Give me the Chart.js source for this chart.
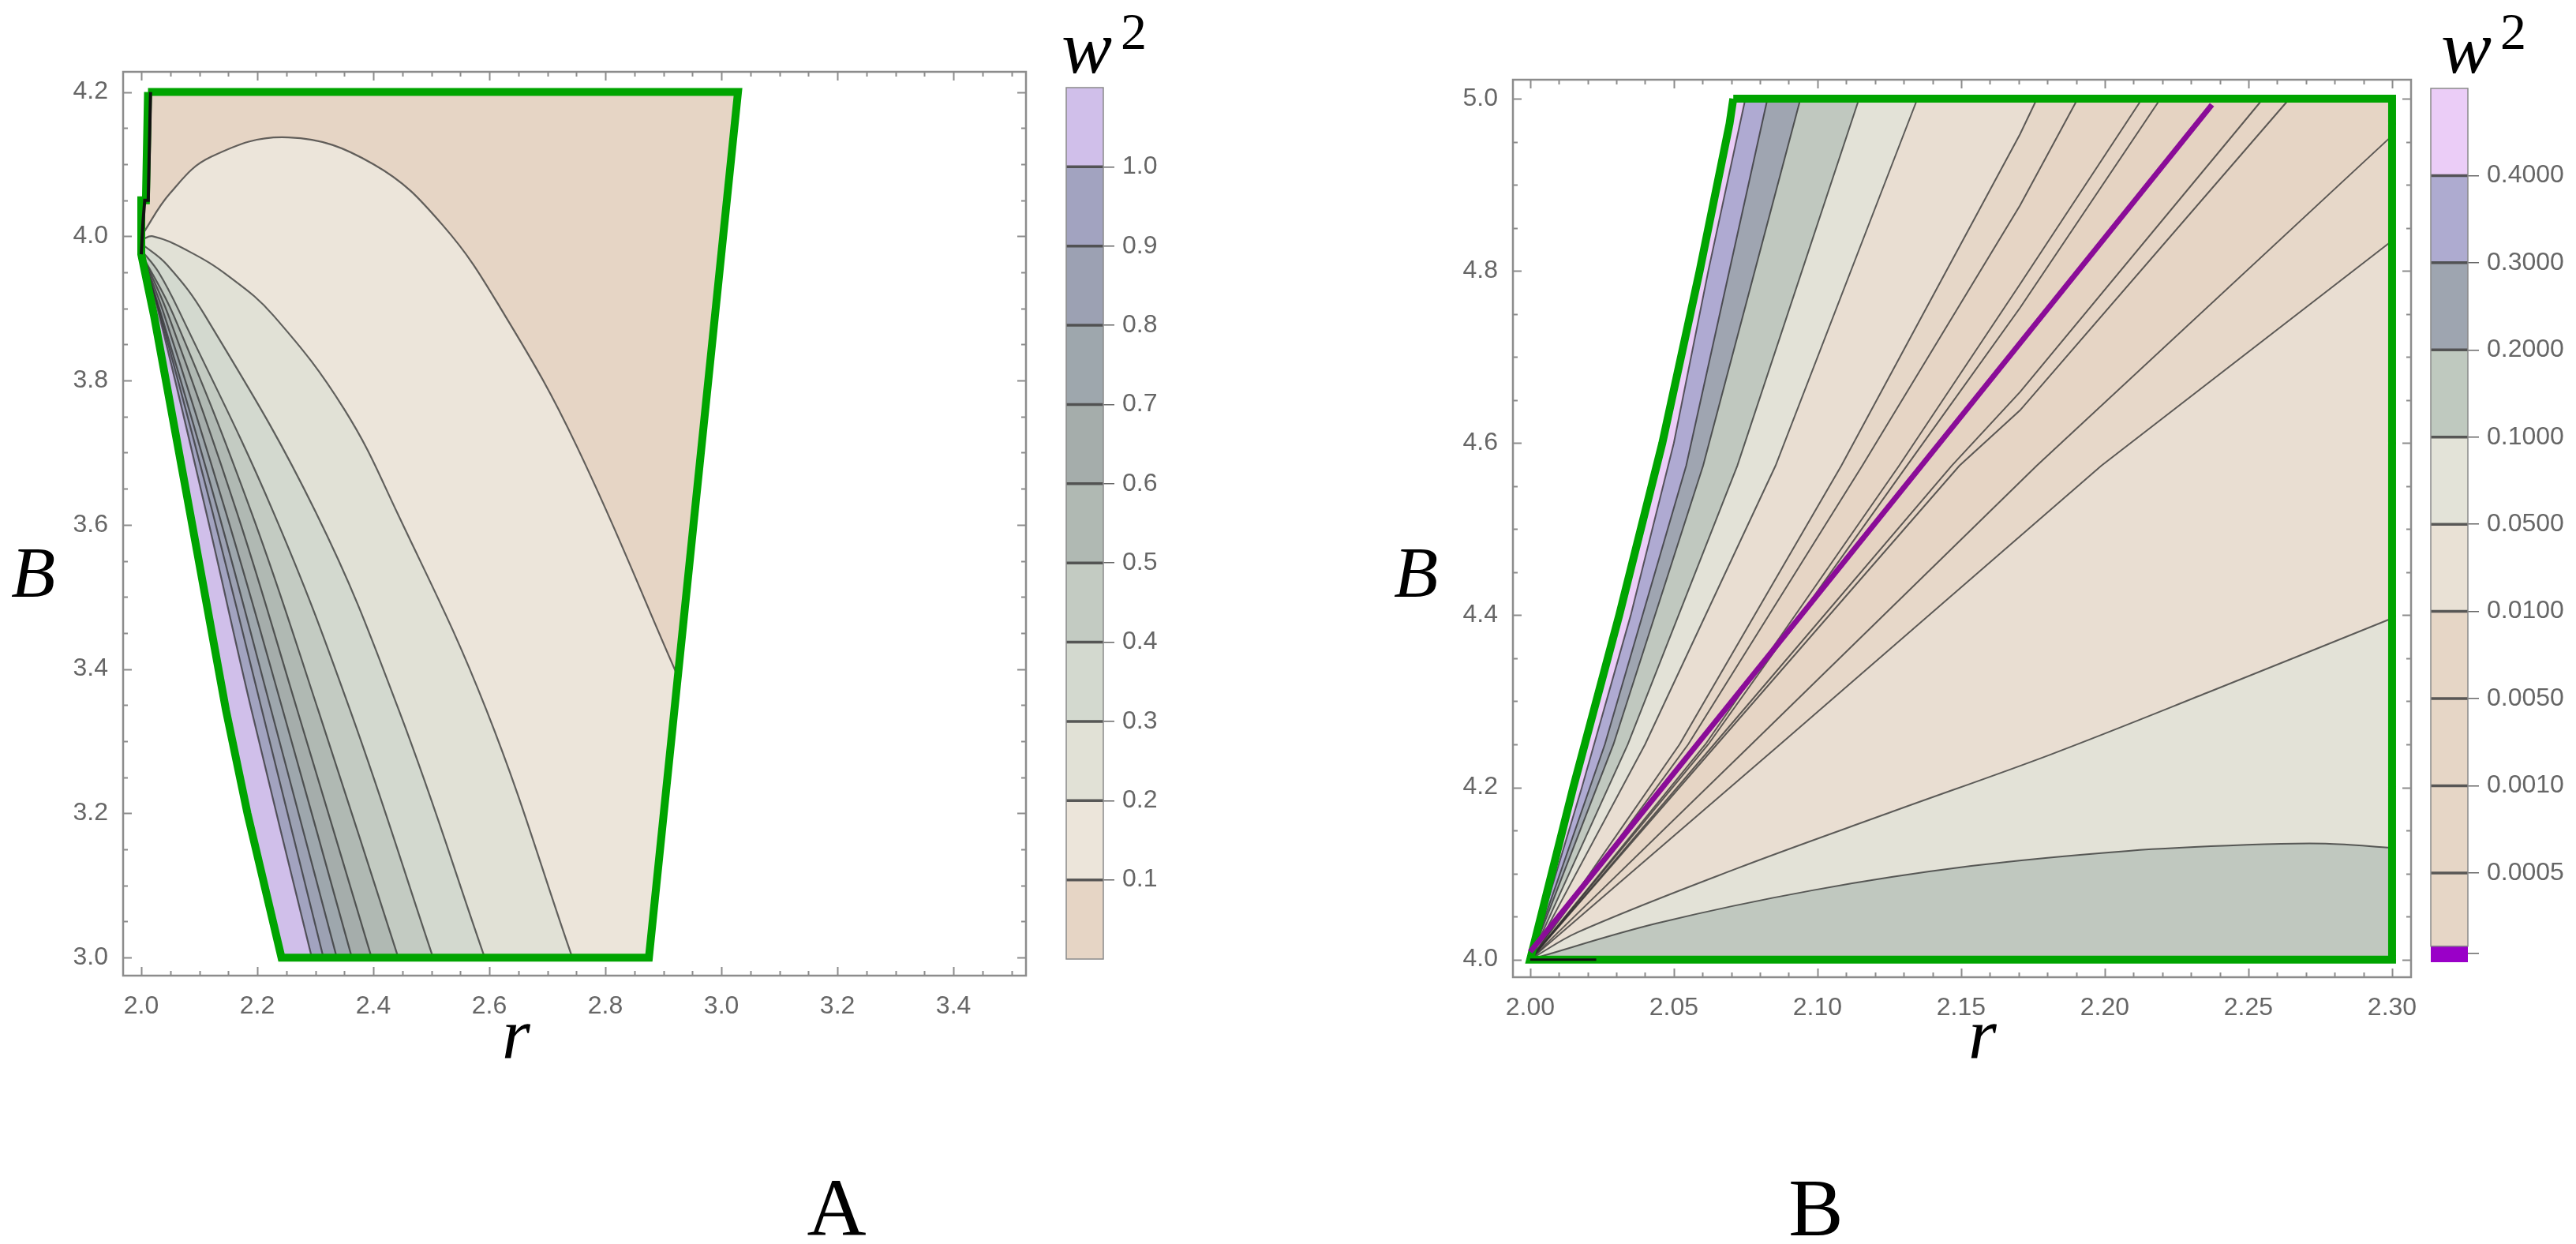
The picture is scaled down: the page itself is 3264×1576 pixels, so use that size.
<!DOCTYPE html>
<html>
<head>
<meta charset="utf-8">
<script src="https://cdn.jsdelivr.net/npm/chart.js@4.4.1/dist/chart.umd.min.js"></script>
<style>
  html, body { margin: 0; padding: 0; background: #fff; }
  #wrap { position: relative; width: 3264px; height: 1576px; overflow: hidden; background: #fff; }
  canvas { position: absolute; }
  .t { position: absolute; font-family: 'Liberation Serif', serif; line-height: 1; white-space: nowrap; color: #000; }
  .i { font-style: italic; }
</style>
</head>
<body>
<div id="wrap">
  <canvas id="plotA" width="1330" height="1400" style="left:0;top:0"></canvas>
  <canvas id="barA" width="230" height="1300" style="left:1330px;top:0"></canvas>
  <canvas id="plotB" width="1380" height="1400" style="left:1700px;top:0"></canvas>
  <canvas id="barB" width="204" height="1300" style="left:3060px;top:0"></canvas>

  <div class="t i" style="left:14px;top:679px;font-size:92px">B</div>
  <div class="t i" style="left:636px;top:1263px;font-size:92px">r</div>
  <div class="t i" style="left:1345px;top:12px;font-size:96px">w</div>
  <div class="t" style="left:1420px;top:7px;font-size:66px">2</div>
  <div class="t" style="left:960px;width:200px;text-align:center;top:1478px;font-size:104px">A</div>

  <div class="t i" style="left:1766px;top:679px;font-size:92px">B</div>
  <div class="t i" style="left:2494px;top:1263px;font-size:92px">r</div>
  <div class="t i" style="left:3093px;top:12px;font-size:96px">w</div>
  <div class="t" style="left:3168px;top:7px;font-size:66px">2</div>
  <div class="t" style="left:2201px;width:200px;text-align:center;top:1478px;font-size:104px">B</div>
</div>

<script>
// ---------------- panel A data (r, B) ----------------
const polyA_r = [2.0116, 3.0286, 2.875, 2.2417, 2.183, 2.146, 2.084, 2.022, 2.0, 2.0, 2.008, 2.0116];
const polyA_B = [4.2, 4.2, 3.0, 3.0, 3.2, 3.343, 3.617, 3.89, 3.975, 4.05, 4.05, 4.2];
const topA_r = [2.0, 3.03];
const topA_B = [4.2, 4.2];
const jagA_r = [2.0, 2.003, 2.006, 2.012, 2.016];
const jagA_B = [3.975, 4.02, 4.05, 4.05, 4.2];

const a01_r = [2.0, 2.05, 2.12, 2.254, 2.40, 2.52, 2.627, 2.75, 2.922];
const a01_B = [4.0, 4.06, 4.11, 4.137, 4.10, 4.015, 3.89, 3.71, 3.395];
const a02_r = [2.0, 2.02, 2.08, 2.15, 2.228, 2.35, 2.441, 2.595, 2.743];
const a02_B = [3.995, 4.0, 3.98, 3.945, 3.89, 3.76, 3.617, 3.343, 3.0];
const a03_r = [2.0, 2.045, 2.110, 2.301, 2.444, 2.592];
const a03_B = [3.99, 3.96, 3.89, 3.617, 3.343, 3.0];
const a04_r = [2.001, 2.03, 2.069, 2.228, 2.360, 2.503];
const a04_B = [3.98, 3.95, 3.89, 3.617, 3.343, 3.0];
const aLowB = [3.975, 3.89, 3.617, 3.343, 3.0];
const a05_r = [2.001, 2.056, 2.190, 2.305, 2.443];
const a06_r = [2.001, 2.047, 2.165, 2.269, 2.397];
const a07_r = [2.001, 2.040, 2.146, 2.244, 2.363];
const a08_r = [2.001, 2.035, 2.133, 2.224, 2.337];
const a09_r = [2.001, 2.033, 2.123, 2.208, 2.314];
const a10_r = [2.001, 2.031, 2.112, 2.190, 2.294];

const levelsA = [0.1, 0.2, 0.3, 0.4, 0.5, 0.6, 0.7, 0.8, 0.9, 1.0];
const coloursA = ['#e6d5c5', '#ece5da', '#e1e1d6', '#d3d9cf', '#c3cbc2', '#b0b9b3',
                  '#a5adab', '#9ea7ad', '#9ca1b3', '#a2a3c0', '#d0bfea'];
const bandLoA = [0, 0.1, 0.2, 0.3, 0.4, 0.5, 0.6, 0.7, 0.8, 0.9, 1.0];
const bandHiA = [0.1, 0.2, 0.3, 0.4, 0.5, 0.6, 0.7, 0.8, 0.9, 1.0, 1.1];

const majorXA = [2.0, 2.2, 2.4, 2.6, 2.8, 3.0, 3.2, 3.4];
const majorYA = [3.0, 3.2, 3.4, 3.6, 3.8, 4.0, 4.2];

// ---------------- panel B data ----------------
const polyB_r = [2.0707, 2.300, 2.300, 2.0, 2.015, 2.031, 2.046, 2.059, 2.0694, 2.0707];
const polyB_B = [5.0, 5.0, 4.0, 4.0, 4.2, 4.4, 4.6, 4.8, 4.971, 5.0];
const topB_r = [1.99, 2.31];
const topB_B = [5.0, 5.0];
const extB_r = [2.32];
const extB_B = [5.03];
const zeroB_r = [2.0, 2.2373];
const zeroB_B = [4.009, 4.993];
const stubB_r = [2.0, 2.023];
const stubB_B = [4.0, 4.0];

const b04_r = [2.0, 2.018, 2.035, 2.050, 2.062, 2.0749];
const b04_B = [4.0, 4.2, 4.4, 4.6, 4.8, 5.0];
const radB = [4.0, 4.25, 4.5736, 5.0];
const b03_r = [2.0, 2.026, 2.0543, 2.0826];
const b02_r = [2.0, 2.029, 2.0602, 2.0941];
const b01_r = [2.0, 2.034, 2.0721, 2.1145];
const b005_r = [2.0, 2.040, 2.0854, 2.1348];
const b001_r = [2.0, 2.052, 2.1083, 2.1705, 2.1764];
const b001_B = [4.0, 4.25, 4.5736, 4.9587, 5.0];
const b0005_r = [2.0, 2.055, 2.1156, 2.1705, 2.1906];
const b0005_B = [4.0, 4.25, 4.5736, 4.876, 5.0];
const b0001_r = [2.0, 2.061, 2.1284, 2.1705, 2.2130];
const b0001_B = [4.0, 4.25, 4.5736, 4.7845, 5.0];
const b00005_r = [2.0, 2.062, 2.1311, 2.1705, 2.2194];
const b00005_B = [4.0, 4.25, 4.5736, 4.757, 5.0];
const c00005_r = [2.0, 2.064, 2.1467, 2.1705, 2.2551];
const c00005_B = [4.0, 4.25, 4.5736, 4.6593, 5.0];
const c0001_r = [2.0, 2.065, 2.1494, 2.1705, 2.2643];
const c0001_B = [4.0, 4.25, 4.5736, 4.638, 5.0];
const c0005_r = [2.0, 2.077, 2.1763, 2.300];
const c0005_B = [4.0, 4.25, 4.5736, 4.957];
const c001_r = [2.0, 2.087, 2.1988, 2.300];
const c001_B = [4.0, 4.25, 4.5736, 4.835];
const c005_r = [2.0, 2.0165, 2.0713, 2.1262, 2.181, 2.2357, 2.300];
const c005_B = [4.0, 4.0317, 4.105, 4.172, 4.238, 4.31, 4.3965];
const c01_r = [2.0, 2.044, 2.0987, 2.1535, 2.2083, 2.2494, 2.2768, 2.300];
const c01_B = [4.0, 4.042, 4.0807, 4.1087, 4.1263, 4.1333, 4.1347, 4.1298];

// colour of the band on the right-hand side of each line, left to right
const coloursB = ['#afaad2', '#9fa5b1', '#c0c8bf', '#e3e2d7', '#e9ded2', '#e6d7c8', '#e6d5c5',
                  '#e6d5c5', '#e5d3c2', '#e6d5c5', '#e6d5c5', '#e7d8c9', '#e9ded2', '#e3e2d7', '#c0c8bf'];
const leftmostB = '#ebcdf7';

const barColoursB = ['#9a00c8', '#e6d6c6', '#e6d6c6', '#e6d6c6', '#e6d6c6', '#e9e1d5',
                     '#e3e3d8', '#bfc9bf', '#9ea5b0', '#aeabd0', '#ebcdf7'];
const bandLoB = [-0.024, 0.16, 1, 2, 3, 4, 5, 6, 7, 8, 9];
const bandHiB = [0.16, 1, 2, 3, 4, 5, 6, 7, 8, 9, 10];
const tickPosB = [0.076, 1, 2, 3, 4, 5, 6, 7, 8, 9];
const tickLabB = ['', '0.0005', '0.0010', '0.0050', '0.0100', '0.0500', '0.1000', '0.2000', '0.3000', '0.4000'];

const majorXB = [2.00, 2.05, 2.10, 2.15, 2.20, 2.25, 2.30];
const majorYB = [4.0, 4.2, 4.4, 4.6, 4.8, 5.0];

// ---------------- helpers ----------------
const tickFont = { family: 'Liberation Sans', size: 32 };
const pts = (r, B) => r.map((v, i) => ({ x: v, y: B[i] }));
const steps = (a, b, s) => { const out = []; for (let k = 0; a + k * s <= b + 1e-9; k++) out.push(+(a + k * s).toFixed(4)); return out; };
const minus = (all, major) => all.filter(v => !major.some(m => Math.abs(m - v) < 1e-6));

const fillDs = (r, B, colour, tension) => ({
  data: pts(r, B), fill: 'start', backgroundColor: colour,
  borderColor: 'rgba(0,0,0,0)', borderWidth: 0, pointRadius: 0, tension
});
const lineDs = (r, B, colour, width, tension) => ({
  data: pts(r, B), fill: false, borderColor: colour, borderWidth: width, pointRadius: 0, tension
});

const framePlugin = {
  id: 'frame',
  afterDatasetDraw(chart, args) {
    const ds = chart.data.datasets[args.index];
    if (!ds.maskPoly) return;
    const { ctx, chartArea: a, scales: { x, y } } = chart;
    ctx.save();
    ctx.beginPath();
    ctx.rect(a.left - 3, a.top - 3, a.width + 6, a.height + 6);
    ds.maskPoly.r.forEach((r, i) => {
      const px = x.getPixelForValue(r), py = y.getPixelForValue(ds.maskPoly.B[i]);
      if (i) ctx.lineTo(px, py); else ctx.moveTo(px, py);
    });
    ctx.closePath();
    ctx.fillStyle = '#fff';
    ctx.fill('evenodd');
    ctx.restore();
  },
  afterDraw(chart, args, opts) {
    const { ctx, chartArea: a, scales: { x, y } } = chart;
    ctx.save();
    ctx.strokeStyle = '#8c8c8c';
    ctx.lineWidth = 2;
    const tick = (vals, len, horiz) => vals.forEach(v => {
      ctx.beginPath();
      if (horiz) {
        const px = Math.round(x.getPixelForValue(v)) + 0.5;
        ctx.moveTo(px, a.bottom); ctx.lineTo(px, a.bottom - len);
        ctx.moveTo(px, a.top); ctx.lineTo(px, a.top + len);
      } else {
        const py = Math.round(y.getPixelForValue(v)) + 0.5;
        ctx.moveTo(a.left, py); ctx.lineTo(a.left + len, py);
        ctx.moveTo(a.right, py); ctx.lineTo(a.right - len, py);
      }
      ctx.stroke();
    });
    tick(opts.majorX, 11, true);
    tick(opts.minorX, 6, true);
    tick(opts.majorY, 11, false);
    tick(opts.minorY, 6, false);
    ctx.lineWidth = 2.5;
    ctx.strokeRect(a.left, a.top, a.width, a.height);
    ctx.restore();
  }
};

const bandPlugin = {
  id: 'bands',
  afterDatasetsDraw(chart, args, opts) {
    const { ctx, chartArea: a, scales: { y } } = chart;
    ctx.save();
    ctx.strokeStyle = 'rgba(72,72,72,0.9)';
    ctx.lineWidth = 3.5;
    opts.lines.forEach(v => {
      const py = y.getPixelForValue(v);
      ctx.beginPath(); ctx.moveTo(a.left, py); ctx.lineTo(a.right, py); ctx.stroke();
    });
    ctx.strokeStyle = '#8a8a8a';
    ctx.lineWidth = 1.5;
    ctx.strokeRect(a.left, a.top, a.width, opts.outlineBottom ? y.getPixelForValue(opts.outlineBottom) - a.top : a.height);
    ctx.restore();
  }
};

function plotChart(id, o) {
  return new Chart(document.getElementById(id), {
    type: 'line',
    data: { datasets: o.layers.slice().reverse() },
    options: {
      responsive: false, animation: false, devicePixelRatio: 1,
      layout: { padding: { left: 0, top: o.padTop, right: o.padRight, bottom: 0 } },
      plugins: {
        legend: { display: false }, tooltip: { enabled: false },
        frame: { majorX: o.majorX, minorX: o.minorX, majorY: o.majorY, minorY: o.minorY }
      },
      scales: {
        x: {
          type: 'linear', min: o.xMin, max: o.xMax,
          grid: { display: false }, border: { display: false },
          afterBuildTicks: s => { s.ticks = o.majorX.map(v => ({ value: v })); },
          afterFit: s => { s.height = o.xHeight; },
          ticks: { autoSkip: false, maxRotation: 0, padding: 12, color: '#666', font: tickFont,
                   callback: v => v.toFixed(o.xDigits) }
        },
        y: {
          type: 'linear', min: o.yMin, max: o.yMax,
          grid: { display: false }, border: { display: false },
          afterBuildTicks: s => { s.ticks = o.majorY.map(v => ({ value: v })); },
          afterFit: s => { s.width = o.yWidth; },
          ticks: { autoSkip: false, padding: 11, color: '#666', font: tickFont,
                   callback: v => v.toFixed(1) }
        }
      }
    },
    plugins: [framePlugin]
  });
}

function barChart(id, o) {
  return new Chart(document.getElementById(id), {
    type: 'bar',
    data: {
      labels: [''],
      datasets: o.lo.map((lo, i) => ({
        data: [[lo, o.hi[i]]], backgroundColor: o.colours[i], borderWidth: 0,
        grouped: false, barPercentage: 1, categoryPercentage: 1
      }))
    },
    options: {
      responsive: false, animation: false, devicePixelRatio: 1,
      layout: { padding: { left: o.padLeft, top: o.padTop, bottom: o.padBottom, right: 0 } },
      plugins: { legend: { display: false }, tooltip: { enabled: false },
                 bands: { lines: o.lines, outlineBottom: o.outlineBottom } },
      scales: {
        x: { display: false },
        y: {
          position: 'right', min: o.min, max: o.max,
          afterBuildTicks: s => { s.ticks = o.tickPos.map(v => ({ value: v })); },
          afterFit: s => { s.width = o.axisWidth; },
          grid: { drawOnChartArea: false, drawTicks: true, tickLength: 14, color: '#666', lineWidth: 1.5 },
          border: { display: false },
          ticks: { padding: 10, color: '#666', font: tickFont, callback: (v, i) => o.tickLab[i] }
        }
      }
    },
    plugins: [bandPlugin]
  });
}

// ---------------- panel A ----------------
const lineA = 'rgba(45,45,45,0.72)';
const contA_r = [a01_r, a02_r, a03_r, a04_r, a05_r, a06_r, a07_r, a08_r, a09_r, a10_r];
const contA_B = [a01_B, a02_B, a03_B, a04_B, aLowB, aLowB, aLowB, aLowB, aLowB, aLowB];
const layersA = [fillDs(topA_r, topA_B, coloursA[0], 0)];
contA_r.forEach((r, i) => layersA.push(fillDs(r, contA_B[i], coloursA[i + 1], 0.4)));
layersA[layersA.length - 1].maskPoly = { r: polyA_r, B: polyA_B };
contA_r.forEach((r, i) => layersA.push(lineDs(r, contA_B[i], lineA, 2.2, 0.4)));
layersA.push(Object.assign(lineDs(polyA_r, polyA_B, '#00a400', 10, 0), { borderJoinStyle: 'miter' }));
layersA.push(lineDs(jagA_r, jagA_B, '#111', 4, 0));

plotChart('plotA', {
  layers: layersA, xMin: 1.9687, xMax: 3.525, yMin: 2.975, yMax: 4.228,
  padTop: 91, padRight: 30, yWidth: 156, xHeight: 164, xDigits: 1,
  majorX: majorXA, minorX: minus(steps(2.0, 3.5, 0.05), majorXA),
  majorY: majorYA, minorY: minus(steps(3.0, 4.2, 0.05), majorYA)
});

barChart('barA', {
  lo: bandLoA, hi: bandHiA, colours: coloursA, min: 0, max: 1.1,
  tickPos: levelsA, tickLab: levelsA.map(v => v.toFixed(1)), lines: levelsA,
  padLeft: 21, padTop: 111, padBottom: 85, axisWidth: 162
});

// ---------------- panel B ----------------
const lineB = 'rgba(45,45,45,0.75)';
const topLines = [
  [b04_r, b04_B], [b03_r, radB], [b02_r, radB], [b01_r, radB], [b005_r, radB],
  [b001_r, b001_B], [b0005_r, b0005_B], [b0001_r, b0001_B], [b00005_r, b00005_B],
  [c00005_r, c00005_B], [c0001_r, c0001_B]
];
const sideLines = [[c0005_r, c0005_B], [c001_r, c001_B], [c005_r, c005_B], [c01_r, c01_B]];
const sideTension = [0, 0, 0.35, 0.35];
const layersB = [fillDs(topB_r, topB_B, leftmostB, 0)];
topLines.forEach(([r, B], i) => layersB.push(fillDs(r.concat(extB_r), B.concat(extB_B), coloursB[i], 0)));
sideLines.forEach(([r, B], i) => layersB.push(fillDs(r, B, coloursB[topLines.length + i], sideTension[i])));
layersB[layersB.length - 1].maskPoly = { r: polyB_r, B: polyB_B };
topLines.forEach(([r, B]) => layersB.push(lineDs(r, B, lineB, 2, 0)));
sideLines.forEach(([r, B], i) => layersB.push(lineDs(r, B, lineB, 2, sideTension[i])));
layersB.push(Object.assign(lineDs(polyB_r, polyB_B, '#00a400', 10, 0), { borderJoinStyle: 'miter' }));
layersB.push(lineDs(zeroB_r, zeroB_B, '#8a0c98', 7, 0));
layersB.push(lineDs(stubB_r, stubB_B, '#111', 3, 0));

plotChart('plotB', {
  layers: layersB, xMin: 1.994, xMax: 2.3066, yMin: 3.9795, yMax: 5.022,
  padTop: 101, padRight: 25, yWidth: 217, xHeight: 162, xDigits: 2,
  majorX: majorXB, minorX: minus(steps(2.0, 2.3, 0.01), majorXB),
  majorY: majorYB, minorY: minus(steps(4.0, 5.0, 0.05), majorYB)
});

barChart('barB', {
  lo: bandLoB, hi: bandHiB, colours: barColoursB, min: -0.024, max: 10,
  tickPos: tickPosB, tickLab: tickLabB, lines: [1, 2, 3, 4, 5, 6, 7, 8, 9], outlineBottom: 0.16,
  padLeft: 20, padTop: 112, padBottom: 81, axisWidth: 137
});
</script>
</body>
</html>
